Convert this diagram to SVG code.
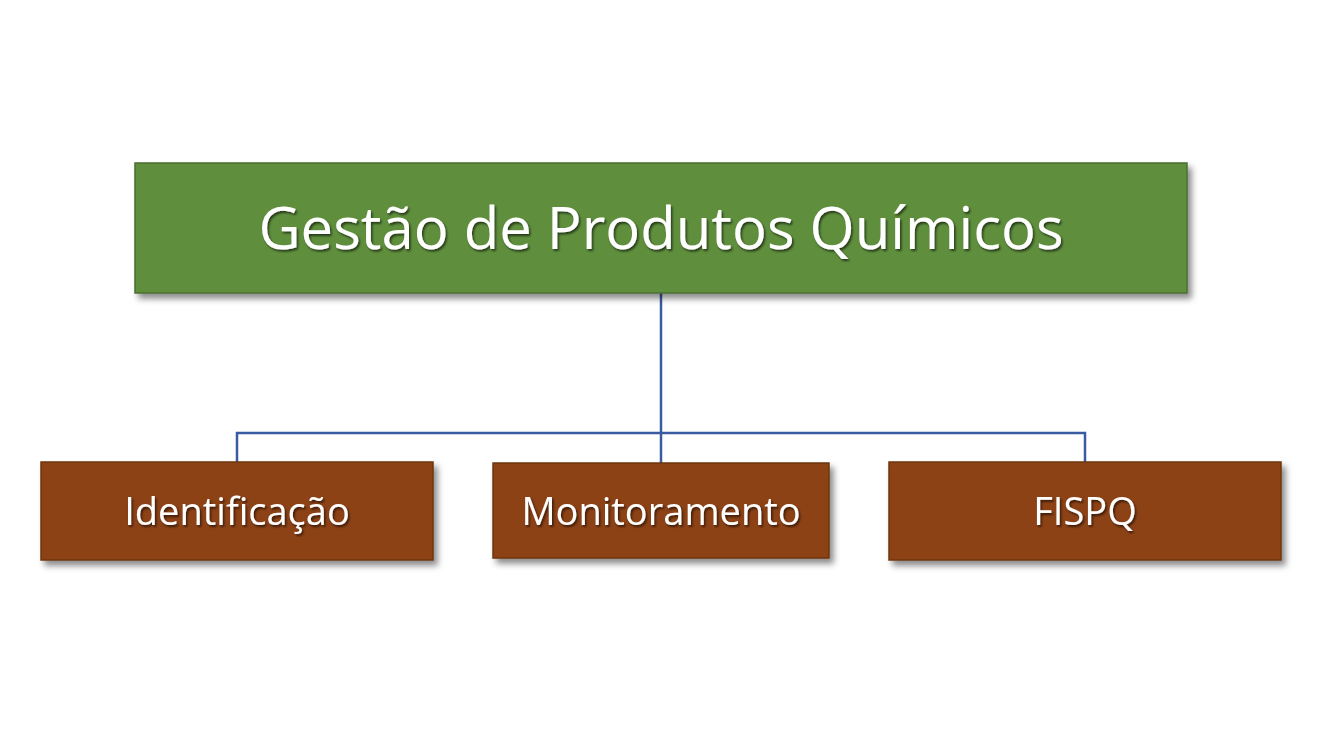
<svg xmlns="http://www.w3.org/2000/svg" width="1323" height="744" viewBox="0 0 1323 744">
<defs>
<filter id="sh" x="-5%" y="-10%" width="115%" height="130%"><feDropShadow dx="4" dy="5" stdDeviation="3" flood-color="#000" flood-opacity="0.45"/></filter>
<filter id="ts"><feDropShadow dx="1.5" dy="2" stdDeviation="1.2" flood-color="#000" flood-opacity="0.6"/></filter>
</defs>
<style>
.g{fill:#5f8f3e;stroke:#4a6e30;stroke-width:1.5}
.b{fill:#8d4314;stroke:#6e3410;stroke-width:1.5}
text{fill:#fff;font-family:"Open Sans","Liberation Sans",sans-serif;text-anchor:middle}
.c{stroke:#3b5ba0;stroke-width:2.5;fill:none}
</style>
<rect width="1323" height="744" fill="#fff"/>
<g id="connectors">
<path class="c" d="M661 293V433M237 462V433H1085V462M661 433V463"/>
</g>
<g id="n0"><rect class="g" x="135" y="163" width="1052" height="130" filter="url(#sh)"/><text x="661" y="249" font-size="58" filter="url(#ts)">Gestão de Produtos Químicos</text></g>
<g id="n1"><rect class="b" x="41" y="462" width="392" height="98" filter="url(#sh)"/><text x="237" y="525" font-size="38" filter="url(#ts)">Identificação</text></g>
<g id="n2"><rect class="b" x="493" y="463" width="336" height="95" filter="url(#sh)"/><text x="661" y="525" font-size="38" filter="url(#ts)">Monitoramento</text></g>
<g id="n3"><rect class="b" x="889" y="462" width="392" height="98" filter="url(#sh)"/><text x="1085" y="525" font-size="38" filter="url(#ts)">FISPQ</text></g>
</svg>
